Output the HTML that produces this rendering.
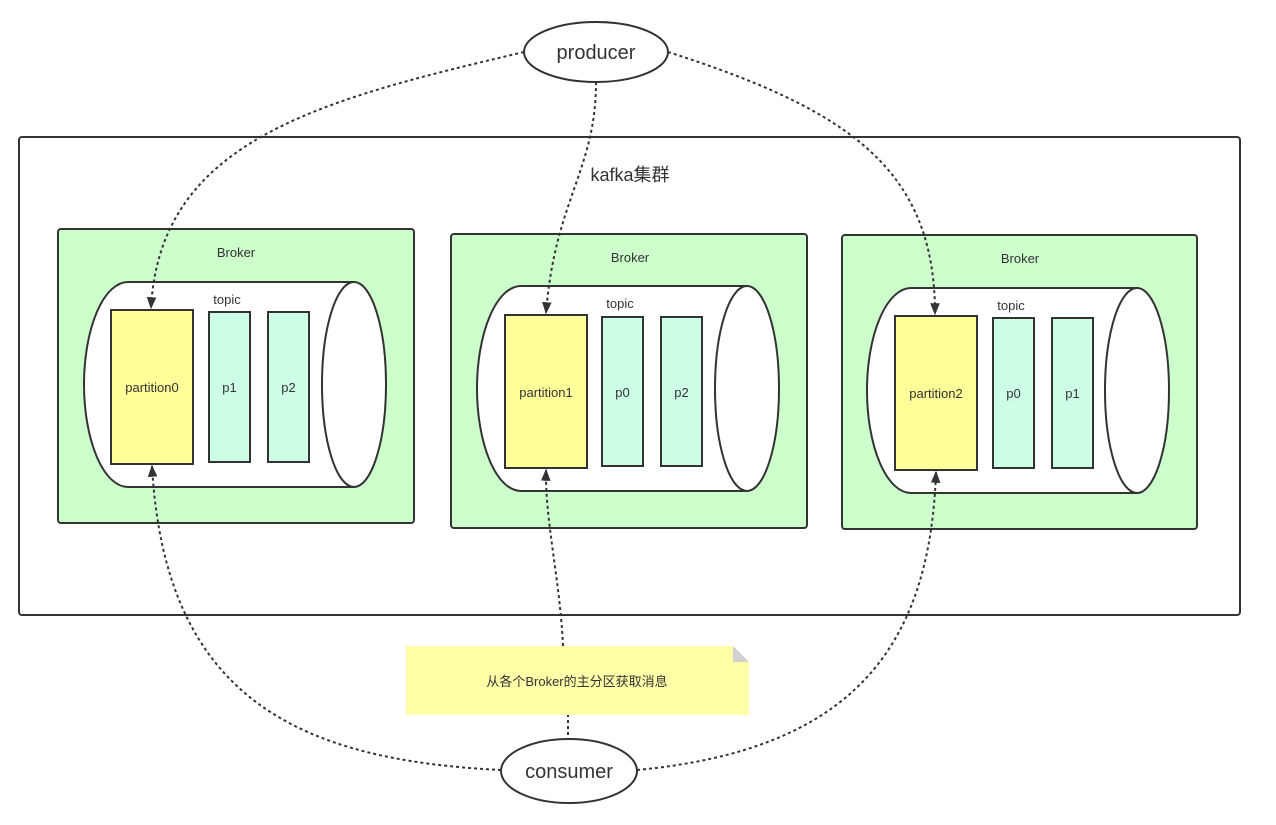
<!DOCTYPE html>
<html><head><meta charset="utf-8"><style>
html,body{margin:0;padding:0;background:#fff;}
svg{display:block;}
text{font-family:"Liberation Sans","Noto Sans CJK SC",sans-serif;fill:#333;}
</style></head><body>
<svg width="1276" height="825" viewBox="0 0 1276 825" xmlns="http://www.w3.org/2000/svg">
<defs>
<marker id="ar" viewBox="0 0 10 10" refX="9" refY="5" markerWidth="12" markerHeight="12" orient="auto-start-reverse" markerUnits="userSpaceOnUse">
<path d="M0,1 L10,5 L0,9 Z" fill="#333"/>
</marker>
<g id="cyl">
<path d="M354,282 L128,282 A44,102.5 0 0 0 128,487 L354,487" fill="#fff" stroke="#333" stroke-width="2"/>
<ellipse cx="354" cy="384.5" rx="32" ry="102.5" fill="#fff" stroke="#333" stroke-width="2"/>
</g>
</defs>
<rect x="19" y="137" width="1221" height="478" rx="3" fill="#fff" stroke="#333" stroke-width="2"/>
<text x="630" y="181" font-size="18" text-anchor="middle">kafka集群</text>

<rect x="58" y="229" width="356" height="294" rx="3" fill="#ccffcc" stroke="#333" stroke-width="2"/>
<rect x="451" y="234" width="356" height="294" rx="3" fill="#ccffcc" stroke="#333" stroke-width="2"/>
<rect x="842" y="235" width="355" height="294" rx="3" fill="#ccffcc" stroke="#333" stroke-width="2"/>
<text x="236" y="257" font-size="13" text-anchor="middle">Broker</text>
<text x="630" y="262" font-size="13" text-anchor="middle">Broker</text>
<text x="1020" y="263" font-size="13" text-anchor="middle">Broker</text>

<use href="#cyl"/>
<use href="#cyl" transform="translate(393,4)"/>
<use href="#cyl" transform="translate(783,6)"/>

<g stroke="#333" stroke-width="2">
<rect x="111" y="310" width="82" height="154" fill="#ffff99"/>
<rect x="209" y="312" width="41" height="150" fill="#ccffe6"/>
<rect x="268" y="312" width="41" height="150" fill="#ccffe6"/>
<rect x="505" y="315" width="82" height="153" fill="#ffff99"/>
<rect x="602" y="317" width="41" height="149" fill="#ccffe6"/>
<rect x="661" y="317" width="41" height="149" fill="#ccffe6"/>
<rect x="895" y="316" width="82" height="154" fill="#ffff99"/>
<rect x="993" y="318" width="41" height="150" fill="#ccffe6"/>
<rect x="1052" y="318" width="41" height="150" fill="#ccffe6"/>
</g>
<g font-size="13" text-anchor="middle">
<text x="227" y="304">topic</text>
<text x="620" y="308">topic</text>
<text x="1011" y="310">topic</text>
<text x="152" y="392">partition0</text>
<text x="229.5" y="392">p1</text>
<text x="288.5" y="392">p2</text>
<text x="546" y="397">partition1</text>
<text x="622.5" y="397">p0</text>
<text x="681.5" y="397">p2</text>
<text x="936" y="398">partition2</text>
<text x="1013.5" y="398">p0</text>
<text x="1072.5" y="398">p1</text>
</g>

<path d="M406,646 L733,646 L749,662 L749,715 L406,715 Z" fill="#ffffa8"/>
<path d="M733,646 L749,662 L733,662 Z" fill="#d0d0d0"/>
<text x="577" y="686" font-size="13" text-anchor="middle">从各个Broker的主分区获取消息</text>

<g fill="none" stroke="#333" stroke-width="2" stroke-dasharray="3,3">
<path d="M524,52 C320,100 160,140 151,308" marker-end="url(#ar)"/>
<path d="M596,82 C596,170 555,200 546,313" marker-end="url(#ar)"/>
<path d="M668,52 C850,110 935,170 935,314" marker-end="url(#ar)"/>
<path d="M501,770 C300,760 165,700 152,466" marker-end="url(#ar)"/>
<path d="M563,646 C560,580 545,520 546,470" marker-end="url(#ar)"/>
<path d="M568,735 L568,715"/>
<path d="M637,770 C850,750 930,650 936,472" marker-end="url(#ar)"/>
</g>

<ellipse cx="596" cy="52" rx="72" ry="30" fill="#fff" stroke="#333" stroke-width="2"/>
<text x="596" y="59" font-size="20" text-anchor="middle">producer</text>
<ellipse cx="569" cy="771" rx="68" ry="32" fill="#fff" stroke="#333" stroke-width="2"/>
<text x="569" y="778" font-size="20" text-anchor="middle">consumer</text>
</svg>
</body></html>
